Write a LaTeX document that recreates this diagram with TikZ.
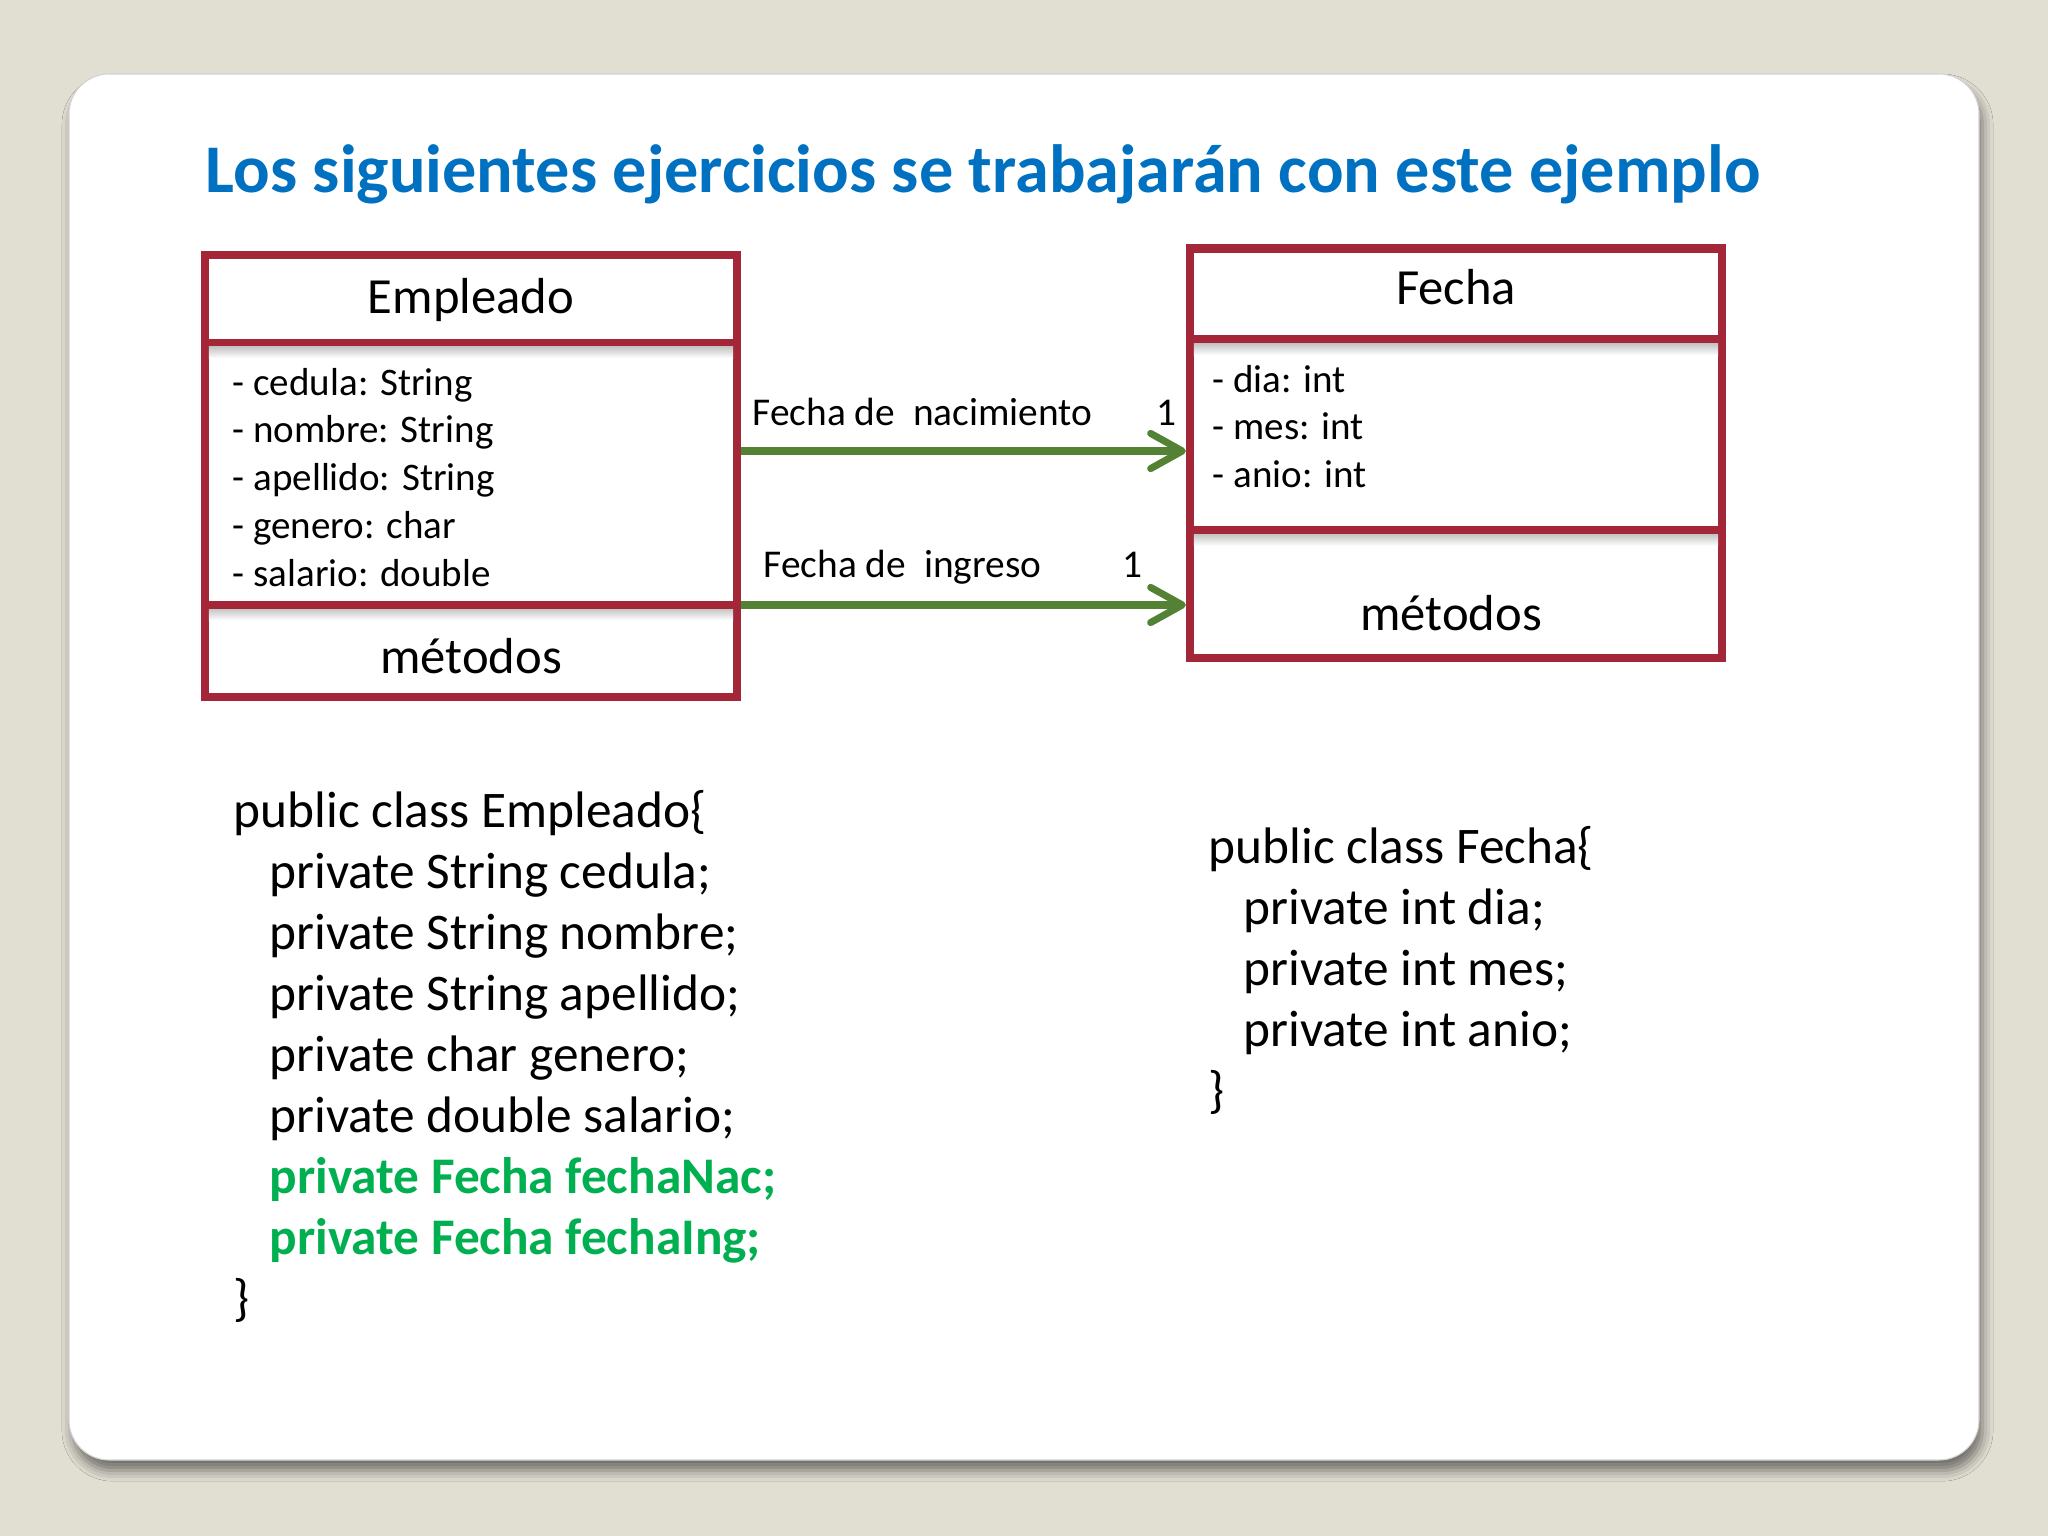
\documentclass[tikz,border=0pt]{standalone}
\usepackage{fontspec}
\setmainfont{Carlito}
\usetikzlibrary{positioning,arrows.meta,shadows.blur}

\definecolor{umlred}{RGB}{163,39,56}
\definecolor{linkgreen}{RGB}{84,130,53}
\definecolor{fieldgreen}{RGB}{0,176,80}
\definecolor{titleblue}{RGB}{0,112,192}
\definecolor{slidebg}{RGB}{225,222,210}

\tikzset{
  compart/.style={draw=umlred, line width=2.3pt, inner sep=0pt, minimum width=5.32cm},
  divshade/.style={top color=gray!45, bottom color=white},
  title/.style={anchor=base west, inner sep=0pt, text=titleblue,
    font=\bfseries\fontsize{19.4}{23}\selectfont},
  classname/.style={anchor=base, inner sep=0pt, font=\fontsize{14.4}{17}\selectfont},
  attr/.style={anchor=base west, inner sep=0pt, font=\fontsize{11.1}{13}\selectfont},
  lbl/.style={inner sep=0pt, font=\fontsize{11.2}{13}\selectfont},
  code/.style={anchor=base west, inner sep=0pt, font=\fontsize{14.6}{17}\selectfont},
  assoc/.style={draw=linkgreen, line width=2pt, -{Straight Barb[length=9pt,width=10pt,round]}}
}

\begin{document}
\begin{tikzpicture}[x=0.01cm, y=-0.01cm]
  \useasboundingbox (0,0) rectangle (2048,1536);
  \fill[slidebg] (0,0) rectangle (2048,1536);
  \fill[white, draw=gray!35, line width=0.3pt, rounded corners=0.4cm,
        blur shadow={shadow xshift=1pt, shadow yshift=-3pt, shadow blur radius=3pt, shadow opacity=50}]
    (69,74) rectangle (1979,1460);

  \node[title] (title) at (205,192) {Los siguientes ejercicios se trabajarán con este ejemplo};

  % clase Empleado
  \node[compart, minimum height=0.88cm] (ehead) at (471,299) {};
  \node[compart, minimum height=2.62cm] (eattr) at (471,474) {};
  \node[compart, minimum height=0.92cm] (emeth) at (471,651) {};
  \foreach \part in {eattr,emeth}
    \shade[divshade] ([xshift=2.3pt,yshift=-2.3pt]\part.north west) rectangle ([xshift=-2.3pt,yshift=-5.5pt]\part.north east);
  \node[classname] (ename) at (471,313) {Empleado};
  \foreach \txt [count=\i] in {- cedula: String, - nombre: String, - apellido: String, - genero: char, - salario: double}
    \node[attr] (eatt-\i) at (232,{347.2+47.8*\i}) {\txt};
  \node[classname] (emet) at (471,673) {métodos};

  % clase Fecha
  \node[compart, minimum height=0.91cm] (fhead) at (1456,294) {};
  \node[compart, minimum height=1.90cm] (fattr) at (1456,435) {};
  \node[compart, minimum height=1.27cm] (fmeth) at (1456,594) {};
  \foreach \part in {fattr,fmeth}
    \shade[divshade] ([xshift=2.3pt,yshift=-2.3pt]\part.north west) rectangle ([xshift=-2.3pt,yshift=-5.5pt]\part.north east);
  \node[classname] (fname) at (1456,304) {Fecha};
  \foreach \txt [count=\i] in {- dia: int, - mes: int, - anio: int}
    \node[attr] (fatt-\i) at (1212,{344.5+47.5*\i}) {\txt};
  \node[classname] (fmet) at (1451,630) {métodos};

  % asociaciones
  \draw[assoc] ([yshift=0.23cm]eattr.east) -- ([yshift=0.23cm]eattr.east -| fattr.west);
  \draw[assoc] ([yshift=-1.15pt]emeth.north east) -- ([yshift=-1.15pt]emeth.north east -| fmeth.west);
  \node[lbl, anchor=base west] (nacLbl) at (752,425) {Fecha de\ \ nacimiento};
  \node[lbl, anchor=base] (nacMult) at (1166,425) {1};
  \node[lbl, anchor=base west] (ingLbl) at (763,577) {Fecha de\ \ ingreso};
  \node[lbl, anchor=base] (ingMult) at (1132,577) {1};

  % codigo Java
  \node[code] (ecode-0) at (233,827) {public class Empleado\{};
  \foreach \txt [count=\i] in {private String cedula;, private String nombre;, private String apellido;, private char genero;, private double salario;}
    \node[code] (ecode-\i) at (269,{827+61*\i}) {\txt};
  \node[code, text=fieldgreen, font=\bfseries\fontsize{14.6}{17}\selectfont] (ecode-6) at (269,1193) {private Fecha fechaNac;};
  \node[code, text=fieldgreen, font=\bfseries\fontsize{14.6}{17}\selectfont] (ecode-7) at (269,1254) {private Fecha fechaIng;};
  \node[code] (ecode-8) at (233,1315) {\}};

  \node[code] (fcode-0) at (1208,863) {public class Fecha\{};
  \foreach \txt [count=\i] in {private int dia;, private int mes;, private int anio;}
    \node[code] (fcode-\i) at (1243,{863+61*\i}) {\txt};
  \node[code] (fcode-4) at (1208,1107) {\}};
\end{tikzpicture}
\end{document}
